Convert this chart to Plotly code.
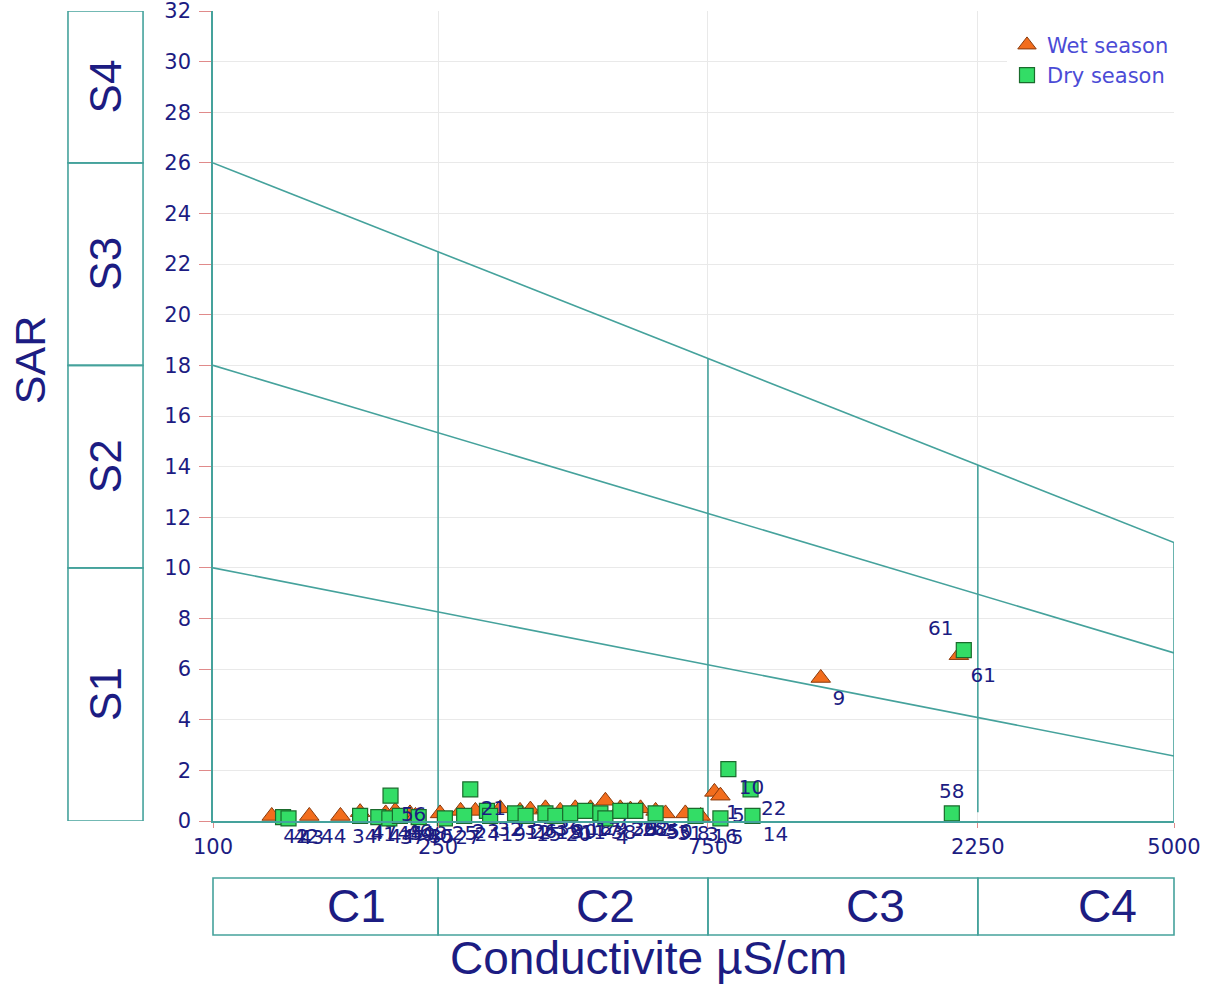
import math
import plotly.graph_objects as go

# ---------------- data ----------------
wet_ec = [127, 148, 168, 182, 202, 210, 223, 228, 252, 274, 291, 322, 349, 364, 387,
          411, 437, 465, 494, 525, 547, 570, 606, 631, 684, 728, 770, 789, 1187, 2083]
wet_sar = [0.2, 0.2, 0.2, 0.35, 0.3, 0.4, 0.3, 0.2, 0.3, 0.4, 0.4, 0.5, 0.4, 0.45, 0.5,
           0.4, 0.5, 0.5, 0.8, 0.5, 0.45, 0.5, 0.4, 0.3, 0.3, 0.2, 1.15, 1.0, 5.65, 6.55]
wet_id = ["42", "44", "34", "47", "45", "46", "48", "40", "25", "2", "3", "23", "26", "33", "36",
          "30", "18", "29", "7", "39", "28", "53", "50", "31", "8", "16", "1", "51", "9", "61"]

dry_ec = [133, 136, 182, 196, 205, 206, 214, 231, 257, 278, 285, 305, 309, 342, 357, 387,
          403, 428, 455, 484, 494, 525, 558, 606, 713, 789, 815, 892, 899, 2024, 2125]
dry_sar = [0.15, 0.1, 0.2, 0.15, 0.1, 1.0, 0.2, 0.15, 0.1, 0.2, 1.25, 0.4, 0.2, 0.3, 0.2, 0.3,
           0.2, 0.3, 0.4, 0.3, 0.1, 0.4, 0.4, 0.3, 0.2, 0.1, 2.05, 1.25, 0.2, 0.3, 6.75]
dry_id = ["42", "43", "41", "44", "37", "56", "49", "35", "27", "24", "21", "32", "19", "12", "15", "13",
          "20", "11", "17", "38", "4", "26", "52", "55", "3", "5", "10", "22", "14", "58", "61"]

# classification limits (Richards diagram)
ec_min, ec_max = 100, 5000
c_bounds = [250, 750, 2250]
c_labels = ["C1", "C2", "C3", "C4"]
s_left = [10, 18, 26]
s_right = [2.57, 6.64, 11.0]
s_bounds_axis = [0, 10, 18, 26, 32]
s_labels = ["S1", "S2", "S3", "S4"]
y_ticks = list(range(0, 33, 2))
x_ticks = [100, 250, 750, 2250, 5000]

# ---------------- style ----------------
TEAL = "#45a29c"
NAVY = "#1c1c82"
GRID = "#e9e9e9"
TICK = "#e08a8a"

L = math.log10
def xfrac(v):
    return (L(v) - L(ec_min)) / (L(ec_max) - L(ec_min))

def top_line(v):
    return s_left[2] + (s_right[2] - s_left[2]) * xfrac(v)

fig = go.Figure()

# diagonal boundary lines
for a, b in zip(s_left, s_right):
    fig.add_trace(go.Scatter(x=[ec_min, ec_max], y=[a, b], mode="lines",
                             line=dict(color=TEAL, width=1.6), showlegend=False, hoverinfo="skip"))
# vertical dividers
for v in c_bounds + [ec_max]:
    y0 = 0.35 if v == 2250 else 0
    fig.add_trace(go.Scatter(x=[v, v], y=[y0, top_line(v)], mode="lines",
                             line=dict(color=TEAL, width=1.6), showlegend=False, hoverinfo="skip"))

pos_wet = ["bottom right"] * len(wet_id)
pos_dry = ["bottom right"] * len(dry_id)
pos_dry[-1] = "top left"
pos_dry[-2] = "top center"

fig.add_trace(go.Scatter(
    x=wet_ec, y=wet_sar, mode="markers+text", name="Wet season",
    text=wet_id, textposition=pos_wet,
    textfont=dict(family="DejaVu Sans", size=20, color=NAVY),
    marker=dict(symbol="triangle-up", size=17, color="#f26d1d",
                line=dict(color="#8a3a0c", width=1)),
    cliponaxis=False))
fig.add_trace(go.Scatter(
    x=dry_ec, y=dry_sar, mode="markers+text", name="Dry season",
    text=dry_id, textposition=pos_dry,
    textfont=dict(family="DejaVu Sans", size=20, color=NAVY),
    marker=dict(symbol="square", size=15, color="#33dd66",
                line=dict(color="#1a6b2c", width=1.2)),
    cliponaxis=False))

shapes = []
ann = []
# left S panel
px0, px1 = -0.1509, -0.0728
for i in range(4):
    shapes.append(dict(type="rect", xref="paper", yref="y", x0=px0, x1=px1,
                       y0=s_bounds_axis[i], y1=s_bounds_axis[i + 1],
                       line=dict(color=TEAL, width=1.6), fillcolor="rgba(0,0,0,0)"))
    ann.append(dict(xref="paper", yref="y", x=(px0 + px1) / 2,
                    y=(s_bounds_axis[i] + s_bounds_axis[i + 1]) / 2,
                    xanchor="center", yanchor="middle",
                    text=s_labels[i], textangle=-90, showarrow=False,
                    font=dict(family="Liberation Sans", size=44, color=NAVY)))
# bottom C panel
edges = [0] + [xfrac(v) for v in c_bounds] + [1]
cy0, cy1 = -0.1407, -0.0704
c_text_x = [0.1498, 0.408, 0.689, 0.931]
for i in range(4):
    shapes.append(dict(type="rect", xref="paper", yref="paper", x0=edges[i], x1=edges[i + 1],
                       y0=cy0, y1=cy1, line=dict(color=TEAL, width=1.6),
                       fillcolor="rgba(0,0,0,0)"))
    ann.append(dict(xref="paper", yref="paper", x=c_text_x[i], y=(cy0 + cy1) / 2,
                    xanchor="center", yanchor="middle",
                    text=c_labels[i], showarrow=False,
                    font=dict(family="Liberation Sans", size=46, color=NAVY)))

ann.append(dict(xref="paper", yref="paper", x=0.4527, y=-0.1691, text="Conductivite µS/cm",
                xanchor="center", yanchor="middle",
                showarrow=False, font=dict(family="Liberation Sans", size=46, color=NAVY)))
ann.append(dict(xref="paper", yref="paper", x=-0.1904, y=0.569, text="SAR", textangle=-90,
                xanchor="center", yanchor="middle",
                showarrow=False, font=dict(family="Liberation Sans", size=43, color=NAVY)))

fig.update_layout(
    width=1213, height=987,
    margin=dict(l=213, r=39, t=11, b=166, autoexpand=False),
    plot_bgcolor="white", paper_bgcolor="white",
    shapes=shapes, annotations=ann,
    legend=dict(x=1.0, y=0.983, xanchor="right", yanchor="top",
                bgcolor="white", borderwidth=0,
                font=dict(family="DejaVu Sans", size=21, color="#4b4bd6"),
                itemwidth=30, tracegroupgap=0),
    xaxis=dict(type="log", range=[L(ec_min), L(ec_max)], tickvals=x_ticks,
               ticktext=[str(v) for v in x_ticks], showgrid=True, gridcolor=GRID,
               showline=True, linecolor=TEAL, linewidth=2, zeroline=False, automargin=False,
               ticks="outside", ticklen=5, tickcolor=TICK, ticklabelstandoff=1,
               ticklabeloverflow="allow",
               tickfont=dict(family="DejaVu Sans", size=21, color=NAVY)),
    yaxis=dict(range=[0, 32], tickvals=y_ticks, showgrid=True, gridcolor=GRID,
               showline=True, linecolor=TEAL, linewidth=1.5, zeroline=False, automargin=False,
               ticks="outside", ticklen=12, tickcolor=TICK, ticklabelstandoff=4,
               ticklabeloverflow="allow",
               tickfont=dict(family="DejaVu Sans", size=21, color=NAVY)),
)

fig.write_html("out.html", post_script="document.body.style.margin='0';",
               config={"displayModeBar": False})
